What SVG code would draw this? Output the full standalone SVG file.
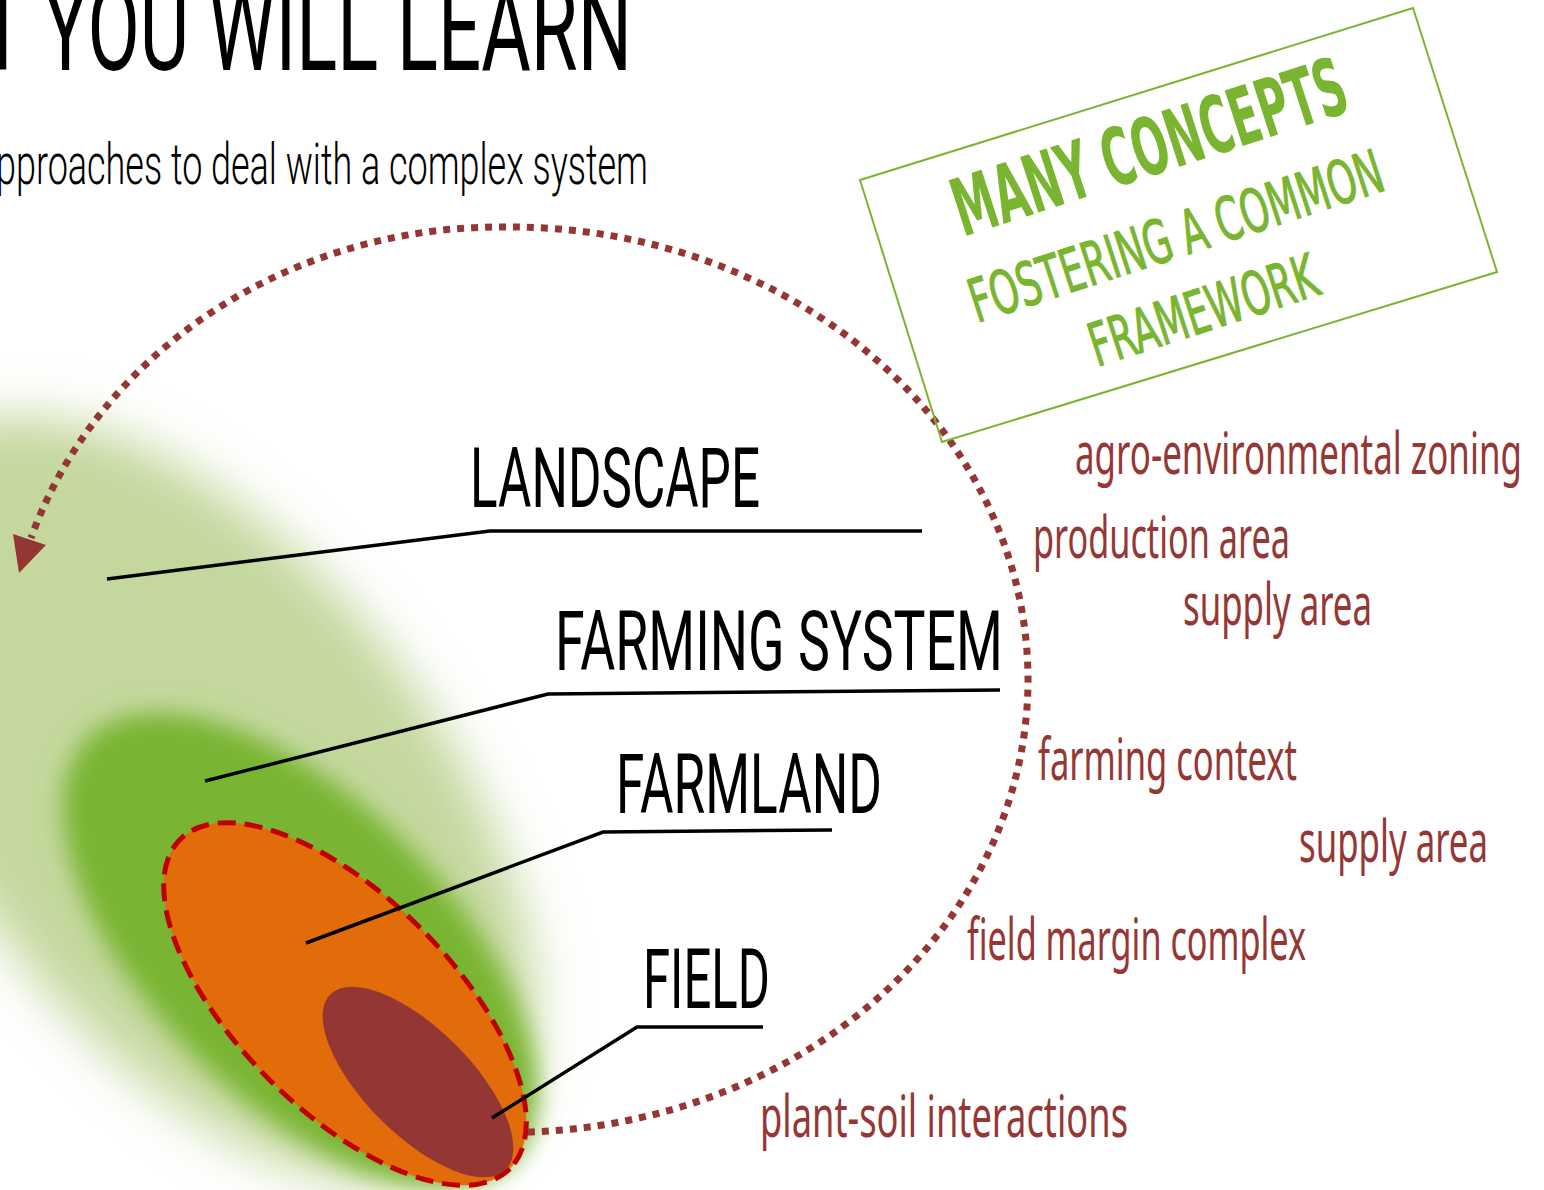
<svg xmlns="http://www.w3.org/2000/svg" width="1544" height="1190" viewBox="0 0 1544 1190">
  <style>
    .head { font-family: Roboto, "Liberation Sans", sans-serif; fill: #000; }
    .lbl { font-family: Roboto, "Liberation Sans", sans-serif; font-size: 84px; fill: #000; }
    .red { font-family: "Noto Sans", "Liberation Sans", sans-serif; font-size: 58px; fill: #953735; }
    .grn { font-family: "DejaVu Sans", "Liberation Sans", sans-serif; fill: #79b530; }
    .grnB { font-weight: bold; }
    .grnN { font-weight: normal; stroke: #79b530; stroke-width: 1.2; }
    .leader { fill: none; stroke: #000; stroke-width: 3.5; stroke-linejoin: miter; }
    .dots { fill: none; stroke: #943634; stroke-width: 7; stroke-dasharray: 7 7; }
  </style>
  <defs>
    <filter id="blurL" x="-50%" y="-50%" width="200%" height="200%">
      <feGaussianBlur stdDeviation="25"/>
    </filter>
    <filter id="blurD" x="-50%" y="-50%" width="200%" height="200%">
      <feGaussianBlur stdDeviation="12"/>
    </filter>
  </defs>
  <rect width="1544" height="1190" fill="#fff"/>

  <g id="title">
    <text class="head" x="-20" y="70" font-size="120" textLength="652" lengthAdjust="spacingAndGlyphs">T YOU WILL LEARN</text>
    <text class="head" x="-4" y="184" font-size="58" font-weight="300" textLength="652" lengthAdjust="spacingAndGlyphs">pproaches to deal with a complex system</text>
  </g>

  <g id="blobs">
    <ellipse cx="200" cy="800" rx="450" ry="240" transform="rotate(52 200 800)" fill="#c4d89e" filter="url(#blurL)"/>
    <ellipse cx="300" cy="950" rx="300" ry="150" transform="rotate(45 300 950)" fill="#79b530" filter="url(#blurD)"/>
  </g>

  <g id="farmland-shape">
    <ellipse cx="345" cy="1004" rx="233" ry="107" transform="rotate(45 345 1004)" fill="#e36c0a" stroke="#c00000" stroke-width="5" stroke-dasharray="18 9"/>
  </g>
  <g id="field-shape">
    <ellipse cx="418" cy="1082" rx="124" ry="53" transform="rotate(45 418 1082)" fill="#943634"/>
  </g>

  <g id="connectors">
    <polyline class="leader" points="107,579 490,531 922,531"/>
    <polyline class="leader" points="205,781 548,694 1000,690"/>
    <polyline class="leader" points="306,943 603,832 832,830"/>
    <polyline class="leader" points="492,1118 637,1027 763,1027"/>
    <path class="dots" d="M 528 1132 A 518 453 0 0 0 1028 680 A 518 453 0 0 0 510 227 L 500 227 A 494 453 0 0 0 31 538"/>
    <polygon points="13,534 46,545 19,573" fill="#943634"/>
  </g>

  <g id="landscape">
    <text class="lbl" x="470" y="507" textLength="290" lengthAdjust="spacingAndGlyphs">LANDSCAPE</text>
  </g>
  <g id="farming-system">
    <text class="lbl" x="555" y="670" textLength="448" lengthAdjust="spacingAndGlyphs">FARMING SYSTEM</text>
  </g>
  <g id="farmland">
    <text class="lbl" x="616" y="813" textLength="266" lengthAdjust="spacingAndGlyphs">FARMLAND</text>
  </g>
  <g id="field">
    <text class="lbl" x="643" y="1008" textLength="127" lengthAdjust="spacingAndGlyphs">FIELD</text>
  </g>

  <g id="concepts">
    <text class="red" x="1075" y="474" textLength="447" lengthAdjust="spacingAndGlyphs">agro-environmental zoning</text>
    <text class="red" x="1033" y="558" textLength="257" lengthAdjust="spacingAndGlyphs">production area</text>
    <text class="red" x="1183" y="625" textLength="189" lengthAdjust="spacingAndGlyphs">supply area</text>
    <text class="red" x="1038" y="780" textLength="259" lengthAdjust="spacingAndGlyphs">farming context</text>
    <text class="red" x="1299" y="862" textLength="189" lengthAdjust="spacingAndGlyphs">supply area</text>
    <text class="red" x="967" y="960" textLength="339" lengthAdjust="spacingAndGlyphs">field margin complex</text>
    <text class="red" x="760" y="1137" textLength="368" lengthAdjust="spacingAndGlyphs">plant-soil interactions</text>
  </g>

  <g id="framework-box">
    <polygon points="860,180 1413,8 1497,272 942,442" fill="none" stroke="#79b530" stroke-width="2"/>
    <text class="grn grnB" transform="translate(963 237) rotate(-18)" font-size="80" textLength="410" lengthAdjust="spacingAndGlyphs">MANY CONCEPTS</text>
    <text class="grn grnN" transform="translate(977 323) rotate(-18)" font-size="60" textLength="432" lengthAdjust="spacingAndGlyphs">FOSTERING A COMMON</text>
    <text class="grn grnN" transform="translate(1097 367) rotate(-18)" font-size="60" textLength="237" lengthAdjust="spacingAndGlyphs">FRAMEWORK</text>
  </g>
</svg>
